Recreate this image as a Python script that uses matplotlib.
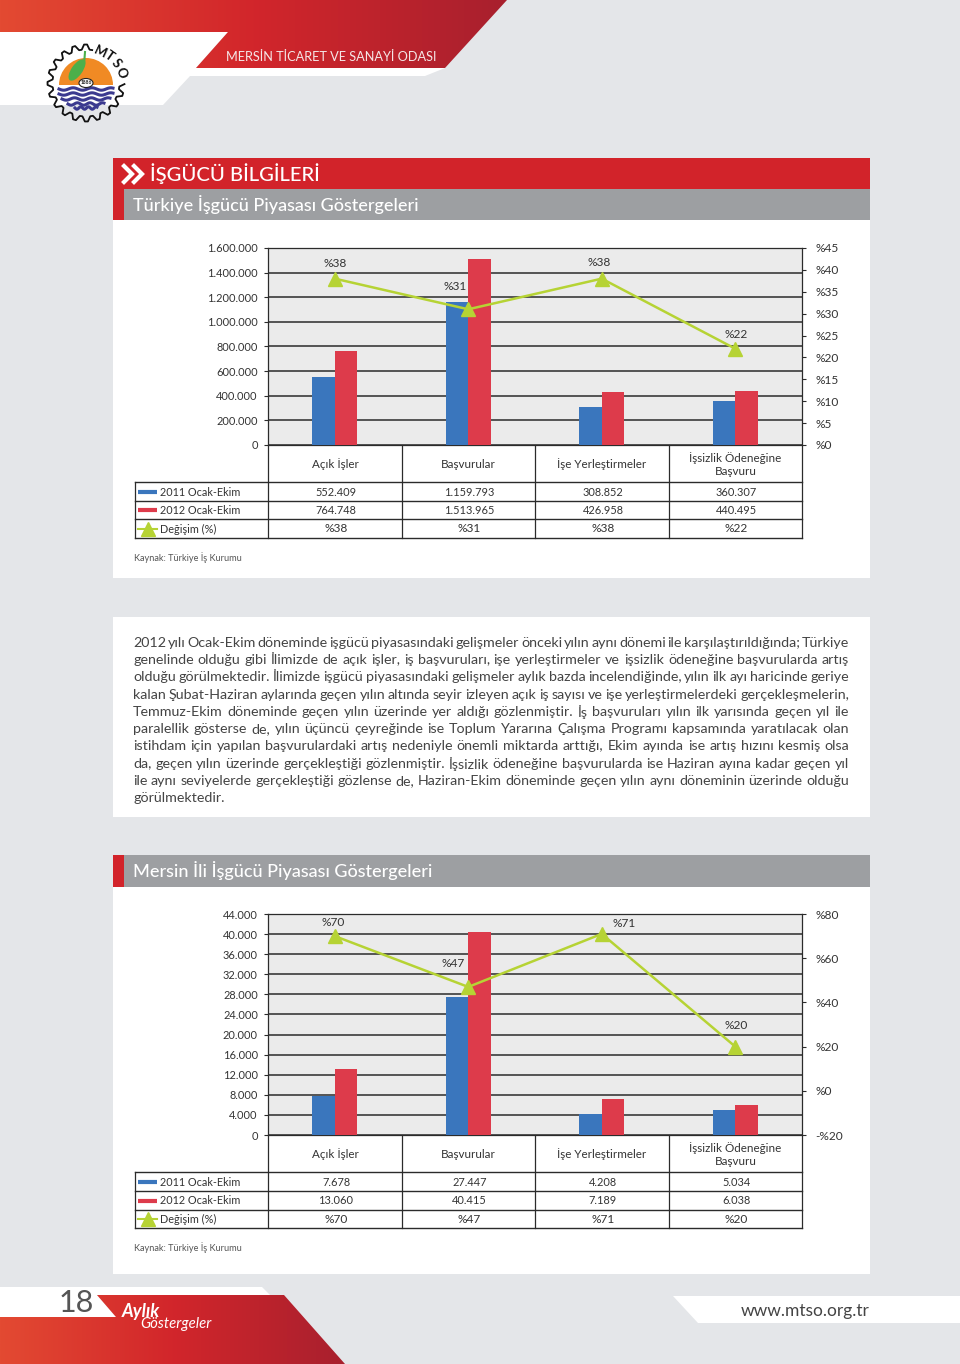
import numpy as np
import matplotlib
matplotlib.use("Agg")
import matplotlib.pyplot as plt
from matplotlib.patches import Polygon, Rectangle, Wedge, Ellipse

plt.rcParams['font.family'] = ['Lato', 'Open Sans', 'DejaVu Sans']

# data
categories = ['Açık İşler', 'Başvurular', 'İşe Yerleştirmeler', 'İşsizlik Ödeneğine\nBaşvuru']
series_names = ['2011 Ocak-Ekim', '2012 Ocak-Ekim', 'Değişim (%)']

tr_2011 = [552409, 1159793, 308852, 360307]
tr_2012 = [764748, 1513965, 426958, 440495]
tr_change = [38, 31, 38, 22]
tr_left_ticks = [0, 200000, 400000, 600000, 800000, 1000000, 1200000, 1400000, 1600000]
tr_right_ticks = [0, 5, 10, 15, 20, 25, 30, 35, 40, 45]

me_2011 = [7678, 27447, 4208, 5034]
me_2012 = [13060, 40415, 7189, 6038]
me_change = [70, 47, 71, 20]
me_left_ticks = [0, 4000, 8000, 12000, 16000, 20000, 24000, 28000, 32000, 36000, 40000, 44000]
me_right_ticks = [-20, 0, 20, 40, 60, 80]

body_lines = [
    "2012 yılı Ocak-Ekim döneminde işgücü piyasasındaki gelişmeler önceki yılın aynı dönemi ile karşılaştırıldığında; Türkiye",
    "genelinde olduğu gibi İlimizde de açık işler, iş başvuruları, işe yerleştirmeler ve işsizlik ödeneğine başvurularda artış",
    "olduğu görülmektedir. İlimizde işgücü piyasasındaki gelişmeler aylık bazda incelendiğinde, yılın ilk ayı haricinde geriye",
    "kalan Şubat-Haziran aylarında geçen yılın altında seyir izleyen açık iş sayısı ve işe yerleştirmelerdeki gerçekleşmelerin,",
    "Temmuz-Ekim döneminde geçen yılın üzerinde yer aldığı gözlenmiştir. İş başvuruları yılın ilk yarısında geçen yıl ile",
    "paralellik gösterse de, yılın üçüncü çeyreğinde ise Toplum Yararına Çalışma Programı kapsamında yaratılacak olan",
    "istihdam için yapılan başvurulardaki artış nedeniyle önemli miktarda arttığı, Ekim ayında ise artış hızını kesmiş olsa",
    "da, geçen yılın üzerinde gerçekleştiği gözlenmiştir. İşsizlik ödeneğine başvurularda ise Haziran ayına kadar geçen yıl",
    "ile aynı seviyelerde gerçekleştiği gözlense de, Haziran-Ekim döneminde geçen yılın aynı döneminin üzerinde olduğu",
    "görülmektedir.",
]

# colours
PAGE = '#e4e6e9'
RED = '#d2232a'
GREY = '#9d9fa2'
BLUE = '#3a76bd'
BAR_RED = '#dd3b4b'
LIME = '#b6d334'
DARK = '#2b2b2b'
TXT = '#333333'
FS_PCT = 8.6    # %38 style labels
FS_NUM = 7.95   # dotted numbers
FS_CAT = 8.4
FS_ROW = 7.8

W, H = 960, 1364
fig = plt.figure(figsize=(W / 100, H / 100), dpi=100, facecolor=PAGE)

# whole page axes in pixels, y pointing down
page = fig.add_axes([0, 0, 1, 1])
page.set_xlim(0, W)
page.set_ylim(H, 0)
page.axis('off')


def fmt(v):
    return f"{v:,}".replace(',', '.')


def rect(x0, y0, x1, y1, color, z=1):
    page.add_patch(Rectangle((x0, y0), x1 - x0, y1 - y0, color=color, lw=0, zorder=z))


def gradient_poly(pts, x0, x1, y0, y1):
    grad = np.linspace(0, 1, 256).reshape(1, -1)
    cmap = matplotlib.colors.LinearSegmentedColormap.from_list(
        'g', ['#e34a32', '#d2262b', '#a8202e'])
    im = page.imshow(grad, extent=[x0, x1, y1, y0], cmap=cmap, aspect='auto', zorder=2)
    poly = Polygon(pts, closed=True, transform=page.transData, fc='none', lw=0)
    page.add_patch(poly)
    im.set_clip_path(poly)
    page.set_xlim(0, W)
    page.set_ylim(H, 0)


# top banner
page.add_patch(Polygon([(190, 68), (445, 68), (425, 76), (190, 76)], closed=True, color='white', lw=0, zorder=1))
page.add_patch(Polygon([(0, 32), (228, 32), (196, 68), (190, 76), (163, 105), (0, 105)], closed=True, color='white', lw=0, zorder=1))
gradient_poly([(0, 0), (507, 0), (445, 68), (196, 68), (228, 32), (0, 32)], 0, 507, 0, 68)
page.text(226, 57, 'MERSİN TİCARET VE SANAYİ ODASI', color='#f5e6e6', fontsize=9.15, va='center', zorder=3)

# logo, the gear stops where the MTSO letters sit
cx, cy = 86, 83
n_teeth = 20
ang = np.linspace(0, 2 * np.pi, n_teeth * 4 + 1) - 0.05
rad = np.resize([38.5, 38.5, 33.5, 33.5], n_teeth * 4 + 1)
keep = (ang < -1.35 + 2 * np.pi) & (ang > -0.05)
page.plot(cx + rad[keep] * np.cos(ang[keep]), cy + rad[keep] * np.sin(ang[keep]), color='#111111', lw=1.3, zorder=3)
page.add_patch(Wedge((cx, 85), 27, 180, 360, fc='#f08a24', lw=0, zorder=4))
xw = np.linspace(0, 1, 60)
for yy, half in zip([89, 94, 99, 104, 108], [27, 27, 24, 18, 11]):
    page.plot(cx - half + 2 * half * xw, yy + 1.2 * np.sin(xw * 18), color='#3b3a8f', lw=2.2, zorder=5)
page.add_patch(Ellipse((77, 70), 11, 25, angle=35, fc='#4caf4a', lw=0, zorder=5))
page.plot([85, 84], [52, 65], color='#4caf4a', lw=1.5, zorder=5)
page.add_patch(Ellipse((cx, 83), 14, 9, fc='white', ec='#222222', lw=0.8, zorder=6))
page.text(cx, 83, '1886', fontsize=3.5, ha='center', va='center', fontweight='bold', color='#222222', zorder=7)
for s, xx, yy, r in zip('MTSO', [100, 109, 116, 121], [52, 56, 63, 73], [-25, -35, -50, -70]):
    page.text(xx, yy, s, fontsize=9.5, fontweight='bold', ha='center', va='center', rotation=r, color='#111111', zorder=7)

# section headers and white panels
rect(113, 220, 870, 578, 'white')
rect(113, 617, 870, 817, 'white')
rect(113, 887, 870, 1274, 'white')
rect(113, 158, 870, 189, RED, 2)
rect(113, 189, 124, 220, RED, 2)
rect(124, 189, 870, 220, GREY, 2)
rect(113, 855, 124, 887, RED, 2)
rect(124, 855, 870, 887, GREY, 2)
for off in (0, 10):
    page.plot(np.array([124, 132, 124]) + off, [166, 174, 182], color='white', lw=3,
              solid_joinstyle='miter', zorder=3)
page.text(150, 174, 'İŞGÜCÜ BİLGİLERİ', color='white', fontsize=14.6, fontweight='medium', va='center', zorder=3)
page.text(133, 204, 'Türkiye İşgücü Piyasası Göstergeleri', color='white', fontsize=13, fontweight='medium', va='center', zorder=3)
page.text(133, 870, 'Mersin İli İşgücü Piyasası Göstergeleri', color='white', fontsize=13, fontweight='medium', va='center', zorder=3)


def chart(top, bottom, rows, v2011, v2012, change, lticks, rticks, rlim, lab_pos):
    left, right = 268, 802
    ax = fig.add_axes([left / W, 1 - bottom / H, (right - left) / W, (bottom - top) / H], zorder=3)
    ax.set_facecolor('#ebebeb')
    x = np.arange(4)
    w = 0.168
    ax.bar(x - w / 2, v2011, w, color=BLUE, zorder=3)
    ax.bar(x + w / 2, v2012, w, color=BAR_RED, zorder=3)
    ax.set_xlim(-0.5, 3.5)
    ax.set_ylim(lticks[0], lticks[-1])
    ax.set_xticks([])
    ax.set_yticks(lticks)
    ax.set_yticklabels([fmt(v) for v in lticks], fontsize=FS_NUM, color=TXT)
    ax.tick_params(axis='y', length=3, width=0.8, color=DARK, pad=4.3)
    ax.grid(axis='y', color=DARK, lw=1.1, zorder=1)
    ax.set_axisbelow(True)
    for s in ax.spines.values():
        s.set_color(DARK)
        s.set_linewidth(0.9)

    ax2 = ax.twinx()
    ax2.set_ylim(*rlim)
    ax2.plot(x, change, color=LIME, lw=1.8, marker='^', ms=10, mfc=LIME, mec=LIME, zorder=5)
    ax2.set_yticks(rticks)
    ax2.set_yticklabels([('-%' + str(-v)) if v < 0 else '%' + str(v) for v in rticks], fontsize=FS_PCT, color=TXT)
    ax2.tick_params(axis='y', length=3, width=0.8, color=DARK, pad=6.5)
    for s in ax2.spines.values():
        s.set_visible(False)
    for i, v in enumerate(change):
        ax2.annotate('%' + str(v), (x[i], v), xytext=lab_pos[i], textcoords='offset pixels',
                     ha='center', va='center', fontsize=FS_PCT, color=TXT, zorder=6)

    # table under the plot
    vl = [135, 268, 402, 535, 669, 802]
    for i, xx in enumerate(vl):
        y0 = rows[1] if i == 0 else rows[0]
        page.plot([xx, xx], [y0, rows[4]], color=DARK, lw=0.9, zorder=3)
    page.plot([135, 802], [rows[4], rows[4]], color=DARK, lw=1, zorder=3)
    for r in rows[1:4]:
        page.plot([135, 802], [r, r], color=DARK, lw=1, zorder=3)
    centers = [335, 468.5, 602, 735.5]
    cat_y = (rows[0] + rows[1]) / 2 + 1
    for c, name in zip(centers, categories):
        page.text(c, cat_y, name, fontsize=FS_CAT, color=TXT, ha='center', va='center', linespacing=1.3, zorder=3)
    rows_txt = [[fmt(v) for v in v2011], [fmt(v) for v in v2012], ['%' + str(v) for v in change]]
    for k in range(3):
        ym = (rows[k + 1] + rows[k + 2]) / 2 + 0.5
        page.text(160, ym, series_names[k], fontsize=FS_ROW, color=TXT, va='center', zorder=3)
        size = FS_PCT if k == 2 else FS_NUM
        for c, s in zip(centers, rows_txt[k]):
            page.text(c + 1, ym, s, fontsize=size, color=TXT, ha='center', va='center', zorder=3)
    y1, y2, y3 = [(rows[k + 1] + rows[k + 2]) / 2 for k in range(3)]
    page.plot([138, 157], [y1, y1], color=BLUE, lw=3, solid_capstyle='butt', zorder=3)
    page.plot([138, 157], [y2, y2], color=BAR_RED, lw=3, solid_capstyle='butt', zorder=3)
    page.plot([138, 157], [y3, y3], color=LIME, lw=1.5, zorder=3)
    page.plot([147.5], [y3], marker='^', ms=10, color=LIME, lw=0, zorder=3)
    page.text(134, rows[4] + 20, 'Kaynak: Türkiye İş Kurumu', fontsize=6.6, color='#555555', va='center', zorder=3)


chart(248, 445, [445, 482, 501, 519, 538], tr_2011, tr_2012, tr_change, tr_left_ticks, tr_right_ticks,
      (0, 45), [(0, 15), (-13, 23), (-3, 16), (1, 14)])
chart(914, 1135, [1135, 1172, 1191, 1210, 1228], me_2011, me_2012, me_change, me_left_ticks, me_right_ticks,
      (-20, 80), [(-2, 14), (-15, 23), (22, 10), (1, 21)])

# body text, justified by hand
renderer = fig.canvas.get_renderer()
BODY_SIZE = 10.3


def text_width(s):
    t = page.text(0, 0, s, fontsize=BODY_SIZE)
    w = t.get_window_extent(renderer).width
    t.remove()
    return w


space = text_width('a a') - text_width('aa')
for i, line in enumerate(body_lines):
    y = 643 + i * 17.22
    words = line.split(' ')
    widths = [text_width(w) for w in words]
    if i == len(body_lines) - 1:
        gap = space
    else:
        gap = (849 - 133 - sum(widths)) / (len(words) - 1)
    xx = 133
    for w, wd in zip(words, widths):
        page.text(xx, y, w, fontsize=BODY_SIZE, color='#444444', va='center', zorder=3)
        xx += wd + gap

# footer
page.add_patch(Polygon([(0, 1287), (262, 1287), (270, 1295), (97, 1295), (116, 1317), (0, 1317)],
                       closed=True, color='white', lw=0, zorder=1))
gradient_poly([(0, 1317), (116, 1317), (97, 1295), (284, 1295), (345, 1364), (0, 1364)], 0, 345, 1295, 1364)
page.text(76, 1303, '18', fontsize=22, color='#555555', ha='center', va='center', zorder=3)
page.text(122, 1311, 'Aylık', fontsize=13, color='white', fontweight='bold', style='italic', va='center', zorder=3)
page.text(140, 1324, 'Göstergeler', fontsize=10.7, color='white', style='italic', va='center', zorder=3)
page.add_patch(Polygon([(673, 1296), (960, 1296), (960, 1323), (698, 1323)], closed=True, color='white', lw=0, zorder=1))
page.text(870, 1311, 'www.mtso.org.tr', fontsize=12.5, color='#444444', ha='right', va='center', zorder=3)

fig.savefig('out.png', dpi=100, facecolor=PAGE)
